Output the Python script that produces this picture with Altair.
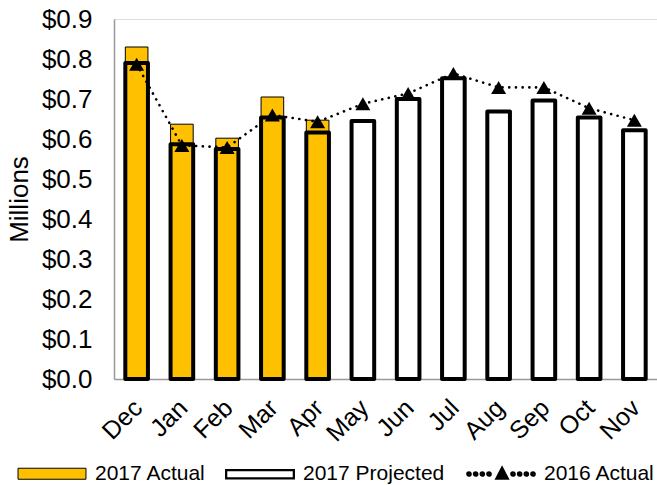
import altair as alt
import pandas as pd

# Monthly revenue, in millions of dollars
months = ["Dec", "Jan", "Feb", "Mar", "Apr", "May", "Jun", "Jul", "Aug", "Sep", "Oct", "Nov"]
actual_2017 = [0.830, 0.637, 0.602, 0.705, 0.647]
projected_2017 = [0.790, 0.587, 0.575, 0.654, 0.616, 0.645, 0.700, 0.752, 0.669, 0.696, 0.654, 0.622]
actual_2016 = [0.787, 0.584, 0.579, 0.660, 0.643, 0.688, 0.714, 0.764, 0.729, 0.729, 0.677, 0.647]
series_names = ["2017 Actual", "2017 Projected", "2016 Actual"]
y_ticks = [0.0, 0.1, 0.2, 0.3, 0.4, 0.5, 0.6, 0.7, 0.8, 0.9]

FONT = "Liberation Sans"
GOLD = "#FFC000"

df_actual = pd.DataFrame({"month": months[: len(actual_2017)], "value": actual_2017})
df_proj = pd.DataFrame({"month": months, "value": projected_2017})
df_2016 = pd.DataFrame({"month": months, "value": actual_2016})
df_legend = pd.DataFrame({"series": series_names})

x_enc = alt.X(
    "month:N",
    sort=months,
    scale=alt.Scale(domain=months, paddingInner=0.5, paddingOuter=0.25),
    axis=alt.Axis(
        title=None, labelAngle=-45, labelFont=FONT, labelFontSize=25, labelColor="black",
        ticks=False, tickSize=0, labelPadding=16, labelOffset=-7, domainColor="#999999",
        domainWidth=1.5, grid=False,
    ),
)
y_enc = alt.Y(
    "value:Q",
    scale=alt.Scale(domain=[0, 0.9], nice=False, zero=True),
    axis=alt.Axis(
        title="Millions", values=y_ticks, format="$.1f", labelFont=FONT, labelFontSize=26,
        labelColor="black", ticks=False, tickSize=0, labelPadding=22, grid=False,
        domainColor="#999999", domainWidth=1.5, titleFont=FONT, titleFontSize=26,
        titleFontWeight="normal", titleColor="black", titlePadding=9,
    ),
)

bars_actual = alt.Chart(df_actual).mark_bar(
    fill=GOLD, stroke="black", strokeWidth=1
).encode(x=x_enc, y=y_enc)

bars_proj = alt.Chart(df_proj).mark_bar(
    fill="white", fillOpacity=0, stroke="black", strokeWidth=4, strokeJoin="round"
).encode(x=x_enc, y=y_enc)

line_2016 = alt.Chart(df_2016).mark_line(
    color="black", strokeWidth=2.6, strokeDash=[0.1, 6.6], strokeCap="round"
).encode(x=x_enc, y=y_enc)

pts_2016 = alt.Chart(df_2016).mark_point(
    shape="triangle-up", filled=True, color="black", size=225, opacity=1
).encode(x=x_enc, y=y_enc)

# Legend swatches (unit = half the symbol box)
r = 0.03
dot_xs = [-0.889, -0.704, -0.518, -0.333, 0.333, 0.518, 0.704, 0.889]
dots = "".join(
    f"M{cx - r:.3f},0a{r},{r} 0 1,0 {2 * r:.3f},0a{r},{r} 0 1,0 {-2 * r:.3f},0" for cx in dot_xs
)
legend_shapes = [
    "M-0.944,-0.153H0.944V0.153H-0.944Z",
    "M-0.94,-0.115H0.94V0.115H-0.94Z",
    dots + "M0.03,-0.14L0.16,0.11L-0.10,0.11Z",
]
legend_def = alt.Legend(
    title=None, orient="none", legendX=-100, legendY=417, direction="horizontal", columns=3,
    labelFont=FONT, labelFontSize=21, labelColor="black", symbolSize=5184, labelOffset=5,
    columnPadding=15, padding=0,
)
legend_layer = alt.Chart(df_legend).transform_filter("false").mark_point(
    filled=True, opacity=1
).encode(
    shape=alt.Shape("series:N", scale=alt.Scale(domain=series_names, range=legend_shapes), legend=legend_def),
    fill=alt.Fill("series:N", scale=alt.Scale(domain=series_names, range=[GOLD, "white", "black"]), legend=legend_def),
    stroke=alt.Stroke("series:N", scale=alt.Scale(domain=series_names, range=["black", "black", "black"]), legend=legend_def),
    strokeWidth=alt.StrokeWidth("series:N", scale=alt.Scale(domain=series_names, range=[1, 3.5, 0]), legend=legend_def),
)

chart = alt.layer(bars_actual, bars_proj, line_2016, pts_2016, legend_layer).properties(
    width=543,
    height=360,
    autosize=alt.AutoSizeParams(type="none"),
    padding={"left": 114, "top": 19, "right": 0, "bottom": 106},
).configure_view(stroke=None).configure(background="white")

chart.save("out.html", embed_options={"renderer": "svg", "actions": False})
